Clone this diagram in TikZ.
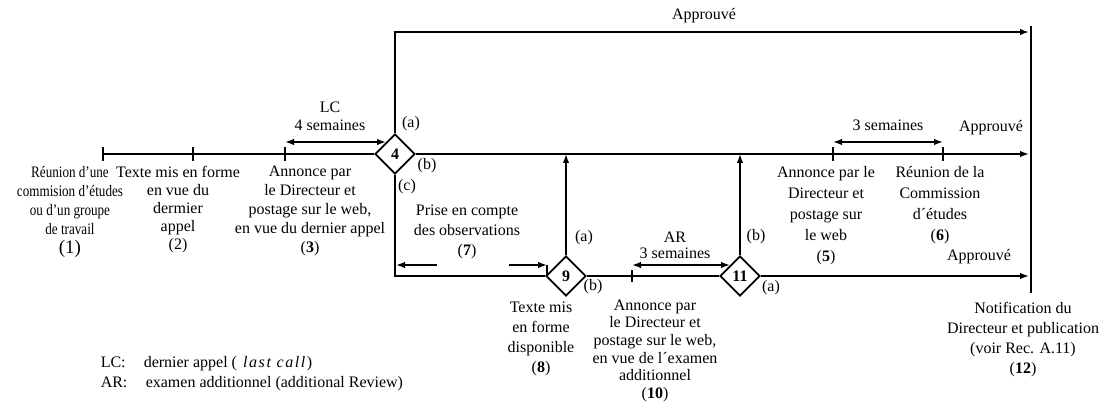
\documentclass[tikz,border=0pt]{standalone}
\usepackage{fontspec}
\setmainfont{Liberation Serif}
\newfontfamily\condfont[FakeStretch=0.82]{Liberation Serif}
\usetikzlibrary{shapes.geometric,arrows.meta}
\begin{document}
\begin{tikzpicture}[x=1pt,y=-1pt,line width=1.5pt,
  every node/.style={inner sep=0pt,font=\fontsize{16}{19}\selectfont},
  dia/.style={diamond,draw,line width=1.7pt,minimum width=40pt,minimum height=40pt,inner sep=0pt,
    font=\fontsize{16}{19}\selectfont\bfseries},
  arr/.style={-{Latex[length=9pt,width=6.5pt]}},
  darr/.style={{Latex[length=9pt,width=6.5pt]}-{Latex[length=9pt,width=6.5pt]}},
  blk/.style={align=center,anchor=north},
  tag/.style={anchor=center}]
\useasboundingbox (0,0) rectangle (1101,403);
% main line
\coordinate (s1) at (103,154);
\coordinate (t2) at (193,154);
\coordinate (t3) at (285,154);
\node[dia] (d4) at (395,154) {4};
\coordinate (t5) at (833,154);
\coordinate (t6) at (943,154);
\coordinate (e1) at (1029,154);
\coordinate (topL) at (395,32);
\coordinate (topR) at (1029,32);
\coordinate (barT) at (1031,26);
\coordinate (barB) at (1031,293);
\node[dia] (d9) at (566,276) {9};
\node[dia] (d11) at (740,276) {11};
\coordinate (c7) at (395,276);
\coordinate (t10) at (632,276);
\coordinate (e2) at (1029,276);
\draw (s1) -- (d4.west);
\draw[arr] (d4.east) -- (e1);
\draw[arr] (d4.north) -- (topL) -- (topR);
\draw (barT) -- (barB);
\draw (d4.south) -- (c7) -- (d9.west);
\draw (d9.east) -- (d11.west);
\draw[arr] (d11.east) -- (e2);
\draw[arr] (d9.north) -- (d9.north |- s1);
\draw[arr] (d11.north) -- (d11.north |- s1);
% ticks
\foreach \c in {s1,t2,t3,t5,t6} \draw ([yshift=-7pt]\c) -- ([yshift=7pt]\c);
\draw ([yshift=-6pt]t10) -- ([yshift=6pt]t10);
% duration arrows
\coordinate (lcA) at (285,142);
\coordinate (lcB) at (386,142);
\draw[darr] (lcA) -- (lcB);
\coordinate (twA) at (833,142);
\coordinate (twB) at (943,142);
\draw[darr] (twA) -- (twB);
\coordinate (arA) at (632,265);
\coordinate (arB) at (730,265);
\draw[darr] (arA) -- (arB);
\coordinate (p1) at (437,265);
\coordinate (p2) at (396,265);
\draw[arr] (p1) -- (p2);
\coordinate (p3) at (509,265);
\coordinate (p4) at (547,265);
\draw[arr] (p3) -- (p4);
\coordinate (p5) at (547,276);
\draw (p4) -- (p5);
% branch labels
\node[tag] (a4) at (411,124) {(a)};
\node[tag] (b4) at (427,166) {(b)};
\node[tag] (c4) at (407,187) {(c)};
\node[tag] (a9) at (584,238) {(a)};
\node[tag] (b9) at (593,287) {(b)};
\node[tag] (b11) at (756,237) {(b)};
\node[tag] (a11) at (771,288) {(a)};
\node[tag] (ap1) at (704,16) {Approuvé};
\node[tag] (ap2) at (991,128) {Approuvé};
\node[tag] (ap3) at (979,257) {Approuvé};
% durations text
\node[blk,font=\fontsize{16}{18}\selectfont] (lc) at (330,101) {LC\\4 semaines};
\node[tag] (tw) at (888,125) {3 semaines};
\node[blk,font=\fontsize{16}{16}\selectfont] (ar) at (675,231) {AR\\3 semaines};
\node[blk,font=\fontsize{16}{20}\selectfont] (n7) at (467,204) {Prise en compte\\des observations\\(\textbf{7})};
% step texts
\node[blk,font=\condfont\fontsize{16}{19}\selectfont] (n1) at (70,166) {Réunion d’une\\commision d’études\\ou d’un groupe\\de travail\\{\fontsize{19}{20}\selectfont\normalfont (1)}};
\node[blk,font=\fontsize{16}{18}\selectfont] (n2) at (178,165) {Texte mis en forme\\en vue du\\dermier\\appel\\(2)};
\node[blk,font=\fontsize{16}{19}\selectfont] (n3) at (310,165) {Annonce par\\le Directeur et\\postage sur le web,\\en vue du dernier appel\\(\textbf{3})};
\node[blk,font=\fontsize{16}{21}\selectfont] (n5) at (826,166) {Annonce par le\\Directeur et\\postage sur\\le web\\(\textbf{5})};
\node[blk,font=\fontsize{16}{21}\selectfont] (n6) at (940,166) {Réunion de la\\Commission\\d´études\\(\textbf{6})};
\node[blk,font=\fontsize{16}{20}\selectfont] (n8) at (541,301) {Texte mis\\en forme\\disponible\\(\textbf{8})};
\node[blk,font=\fontsize{16}{17.6}\selectfont] (n10) at (655,299) {Annonce par\\le Directeur et\\postage sur le web,\\en vue de l´examen\\additionnel\\(\textbf{10})};
\node[blk,font=\fontsize{16}{20}\selectfont] (n12) at (1023,301) {Notification du\\Directeur et publication\\(voir Rec. A.11)\\(\textbf{12})};
% legend
\node[anchor=base west] (lgA) at (100,368) {LC:};
\node[anchor=base west] (lgAt) at (143,368) {dernier appel (\hspace{6pt}\textit{\addfontfeature{LetterSpace=10}last call})};
\node[anchor=base west] (lgB) at (100,388) {AR:};
\node[anchor=base west] (lgBt) at (145,388) {examen additionnel (additional Review)};
\end{tikzpicture}
\end{document}
